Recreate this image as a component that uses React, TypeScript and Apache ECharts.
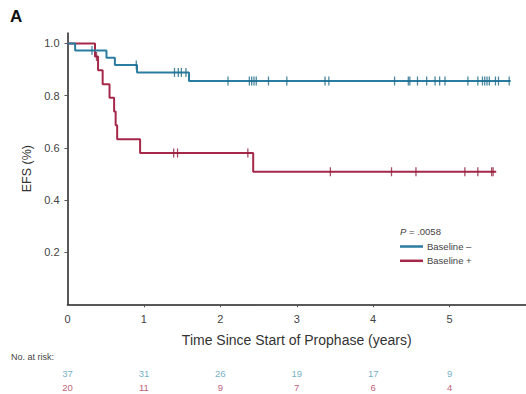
import React, { useEffect, useRef } from "react";
import * as echarts from "echarts";

// Kaplan-Meier step curves (time in years, survival proportion)
const negTimes = [0, 0.1, 0.51, 0.62, 0.91, 1.59, 5.8];
const negSurv = [1.0, 0.973, 0.945, 0.917, 0.889, 0.856, 0.856];
const negCensor = [
  0.32, 0.9, 1.4, 1.45, 1.49, 1.55, 2.1, 2.38, 2.41, 2.44, 2.47, 2.63, 2.87,
  3.37, 3.42, 4.28, 4.46, 4.48, 4.58, 4.7, 4.81, 4.87, 4.94, 5.24, 5.37, 5.43,
  5.46, 5.49, 5.52, 5.6, 5.64, 5.78,
];

const posTimes = [0, 0.36, 0.4, 0.46, 0.55, 0.61, 0.63, 0.65, 0.95, 2.43, 5.61];
const posSurv = [1.0, 0.95, 0.897, 0.844, 0.792, 0.739, 0.686, 0.633, 0.58, 0.508, 0.508];
const posCensor = [0.38, 1.39, 1.44, 2.36, 3.44, 4.24, 4.56, 5.2, 5.37, 5.55, 5.57];

const riskTimes = [0, 1, 2, 3, 4, 5];
const negRisk = [37, 31, 26, 19, 17, 9];
const posRisk = [20, 11, 9, 7, 6, 4];

const xTicks = [0, 1, 2, 3, 4, 5];
const yTicks = [0.2, 0.4, 0.6, 0.8, 1.0];

const BLUE = "#2a7ca0";
const RED = "#a5284a";
const BLUE_TXT = "#4f9ab8";
const RED_TXT = "#ad3050";
const FONT = "Liberation Sans, Arial, sans-serif";

function survAt(times: number[], surv: number[], t: number) {
  let s = surv[0];
  for (let i = 0; i < times.length; i++) {
    if (times[i] <= t) s = surv[i];
  }
  return s;
}

export default function App() {
  const ref = useRef<HTMLDivElement>(null);
  useEffect(() => {
    if (!ref.current) return;
    const chart = echarts.init(ref.current, null, { renderer: "svg" });
    chart.setOption({
      animation: false,
      textStyle: { fontFamily: FONT },
      grid: [
        { left: 67.5, right: 0, top: 33, height: 271.3 },
        { left: 67.5, right: 0, top: 367, height: 30 },
      ],
      xAxis: [
        {
          type: "value",
          gridIndex: 0,
          min: 0,
          max: 6,
          interval: 1,
          name: "Time Since Start of Prophase (years)",
          nameLocation: "middle",
          nameGap: 29,
          nameTextStyle: { fontSize: 14, color: "#333", fontFamily: FONT },
          axisLine: { show: true, onZero: false, lineStyle: { color: "#222", width: 1.5 } },
          axisTick: { show: true, customValues: [1, 2, 3, 4, 5], length: 3, lineStyle: { color: "#555" } },
          axisLabel: { customValues: xTicks, fontSize: 11, color: "#444", margin: 9 },
          splitLine: { show: false },
        },
        { type: "value", gridIndex: 1, min: 0, max: 6, show: false },
      ],
      yAxis: [
        {
          type: "value",
          gridIndex: 0,
          min: 0,
          max: 1.04,
          interval: 0.2,
          name: "EFS (%)",
          nameLocation: "middle",
          nameGap: 34,
          nameTextStyle: { fontSize: 12.5, color: "#333", fontFamily: FONT },
          axisLine: { show: true, lineStyle: { color: "#222", width: 1.5 } },
          axisTick: { show: true, customValues: yTicks, length: 3, lineStyle: { color: "#555" } },
          axisLabel: {
            customValues: yTicks,
            fontSize: 11,
            color: "#444",
            margin: 8,
            formatter: (v: number) => v.toFixed(1),
          },
          splitLine: { show: false },
        },
        { type: "value", gridIndex: 1, min: 0, max: 2, show: false },
      ],
      legend: {
        orient: "vertical",
        left: 400,
        top: 241,
        padding: 0,
        icon: "rect",
        itemWidth: 23,
        itemHeight: 2.5,
        itemGap: 3.3,
        data: ["Baseline –", "Baseline +"],
        textStyle: { fontSize: 9.5, color: "#444", lineHeight: 11, padding: [0, 0, 0, -1] },
      },
      graphic: [
        {
          type: "text",
          left: 10,
          top: 8,
          style: { text: "A", fontSize: 17, fontWeight: "bold", fill: "#111", fontFamily: FONT },
        },
        {
          type: "text",
          left: 400,
          top: 226,
          style: {
            text: "{i|P} = .0058",
            fontSize: 9.5,
            fill: "#444",
            fontFamily: FONT,
            rich: { i: { fontStyle: "italic", fontSize: 9.5, fill: "#444", fontFamily: FONT } },
          },
        },
        {
          type: "text",
          left: 11,
          top: 352,
          style: { text: "No. at risk:", fontSize: 9, fill: "#444", fontFamily: FONT },
        },
      ],
      series: [
        {
          name: "Baseline –",
          type: "line",
          step: "end",
          xAxisIndex: 0,
          yAxisIndex: 0,
          showSymbol: false,
          symbol: "none",
          color: BLUE,
          lineStyle: { width: 2, color: BLUE },
          data: negTimes.map((t, i) => [t, negSurv[i]]),
          z: 3,
        },
        {
          name: "Baseline +",
          type: "line",
          step: "end",
          xAxisIndex: 0,
          yAxisIndex: 0,
          showSymbol: false,
          symbol: "none",
          color: RED,
          lineStyle: { width: 2, color: RED },
          data: posTimes.map((t, i) => [t, posSurv[i]]),
          z: 2,
        },
        {
          name: "Baseline – censored",
          type: "scatter",
          xAxisIndex: 0,
          yAxisIndex: 0,
          symbol: "rect",
          symbolSize: [1.3, 9],
          itemStyle: { color: "#1f6a88" },
          data: negCensor.map((t) => [t, survAt(negTimes, negSurv, t)]),
          z: 4,
        },
        {
          name: "Baseline + censored",
          type: "scatter",
          xAxisIndex: 0,
          yAxisIndex: 0,
          symbol: "rect",
          symbolSize: [1.3, 9],
          itemStyle: { color: "#8e1f3c" },
          data: posCensor.map((t) => [t, survAt(posTimes, posSurv, t)]),
          z: 4,
        },
        {
          name: "At risk –",
          type: "scatter",
          xAxisIndex: 1,
          yAxisIndex: 1,
          symbolSize: 0,
          data: riskTimes.map((t, i) => [t, 1.5, negRisk[i]]),
          label: {
            show: true,
            position: "inside",
            formatter: (p: any) => String(p.value[2]),
            fontSize: 9.5,
            color: BLUE_TXT,
            fontFamily: FONT,
          },
        },
        {
          name: "At risk +",
          type: "scatter",
          xAxisIndex: 1,
          yAxisIndex: 1,
          symbolSize: 0,
          data: riskTimes.map((t, i) => [t, 0.5, posRisk[i]]),
          label: {
            show: true,
            position: "inside",
            formatter: (p: any) => String(p.value[2]),
            fontSize: 9.5,
            color: RED_TXT,
            fontFamily: FONT,
          },
        },
      ],
    });
    return () => chart.dispose();
  }, []);
  return (
    <div
      ref={ref}
      style={{ position: "fixed", left: 0, top: 0, width: 526, height: 394, background: "#fff" }}
    />
  );
}
